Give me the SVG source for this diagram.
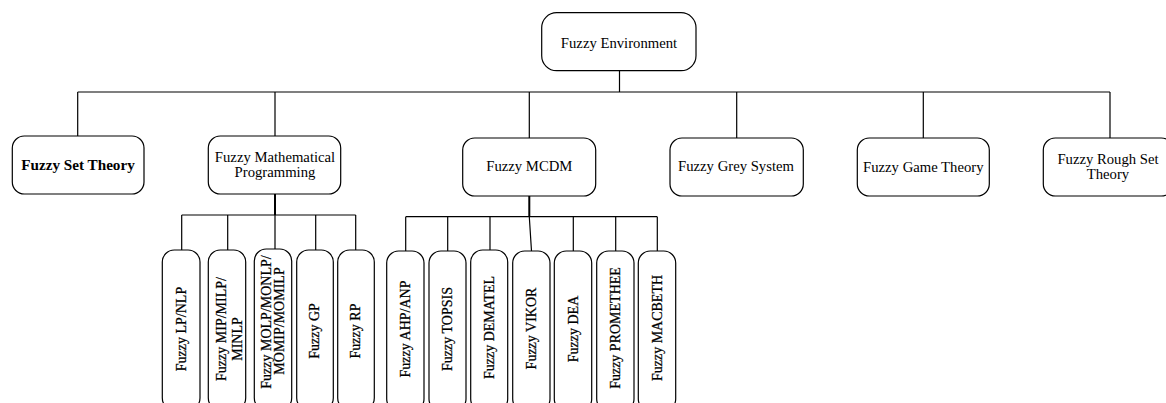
<svg xmlns="http://www.w3.org/2000/svg" width="1166" height="403" viewBox="0 0 1166 403">
<style>
.box{fill:#fff;stroke:#000;stroke-width:1.2}
.ln{fill:none;stroke:#000;stroke-width:1.2}
.stem{fill:none;stroke:#000;stroke-width:2}
text{font-family:"Liberation Serif","Times New Roman",serif;font-size:14.7px;fill:#000;text-anchor:middle}
.b{font-weight:bold;font-size:15.2px}
.v{font-size:14px;stroke:#000;stroke-width:0.25}
</style>
<g id="connectors">
<path class="ln" d="M619.5 71V92M77.7 92H1110M77.7 92V136M275 92V136M529.3 92V138M736.7 92V138M923.3 92V138M1110 92V138"/>
<path class="stem" d="M275 194V215M529.3 196V217"/>
<path class="ln" d="M181.7 215H355.7M181.7 215V250M227.7 215V250M275 215V249M315.7 215V250M355.7 215V250"/>
<path class="ln" d="M405.7 216.7H657.3M405.7 216.7V251M447.7 216.7V251M490 216.7V251M529.3 216.7L531.5 251M573.3 216.7V251M615.7 216.7V251M657.3 216.7V251"/>
</g>
<g id="n-env"><rect class="box" x="541.7" y="12.7" width="154.3" height="58" rx="15"/><text x="619" y="47.5">Fuzzy Environment</text></g>
<g id="n-set"><rect class="box" x="12.3" y="136" width="131.7" height="58" rx="12"/><text class="b" x="78" y="170">Fuzzy Set Theory</text></g>
<g id="n-mp"><rect class="box" x="208.3" y="136" width="132.4" height="58" rx="12"/><text x="275" y="161.5">Fuzzy Mathematical</text><text x="275" y="176.5">Programming</text></g>
<g id="n-mcdm"><rect class="box" x="462.7" y="138" width="133" height="58" rx="12"/><text x="529.3" y="171">Fuzzy MCDM</text></g>
<g id="n-grey"><rect class="box" x="670" y="138" width="133.3" height="58" rx="12"/><text x="736" y="171">Fuzzy Grey System</text></g>
<g id="n-game"><rect class="box" x="857.3" y="138" width="132" height="58" rx="12"/><text x="923.3" y="171.5">Fuzzy Game Theory</text></g>
<g id="n-rough"><rect class="box" x="1043.3" y="138" width="130" height="58" rx="12"/><text x="1108" y="163.5">Fuzzy Rough Set</text><text x="1108" y="178.5">Theory</text></g>
<g id="n-lp"><rect class="box" x="162.3" y="250" width="37.7" height="160" rx="12"/><text class="v" transform="translate(181.7,329) rotate(-90)" y="4.7">Fuzzy LP/NLP</text></g>
<g id="n-mip"><rect class="box" x="208.3" y="250" width="37.4" height="160" rx="12"/><text class="v" transform="translate(221.7,329) rotate(-90)" y="4.7">Fuzzy MIP/MILP/</text><text class="v" transform="translate(237.3,339) rotate(-90)" y="4.7">MINLP</text></g>
<g id="n-molp"><rect class="box" x="254.3" y="249" width="37.4" height="161" rx="12"/><text class="v" transform="translate(266.7,322) rotate(-90)" y="4.7">Fuzzy MOLP/MONLP/</text><text class="v" transform="translate(279.3,321) rotate(-90)" y="4.7">MOMIP/MOMILP</text></g>
<g id="n-gp"><rect class="box" x="296.7" y="250" width="36.6" height="160" rx="12"/><text class="v" transform="translate(314,331) rotate(-90)" y="4.7">Fuzzy GP</text></g>
<g id="n-rp"><rect class="box" x="337.7" y="250" width="36.6" height="160" rx="12"/><text class="v" transform="translate(355.5,331) rotate(-90)" y="4.7">Fuzzy RP</text></g>
<g id="n-ahp"><rect class="box" x="386.7" y="251" width="37.3" height="160" rx="12"/><text class="v" transform="translate(405,329) rotate(-90)" y="4.7">Fuzzy AHP/ANP</text></g>
<g id="n-topsis"><rect class="box" x="429" y="251" width="37" height="160" rx="12"/><text class="v" transform="translate(447.5,329) rotate(-90)" y="4.7">Fuzzy TOPSIS</text></g>
<g id="n-dematel"><rect class="box" x="470.7" y="250" width="37" height="161" rx="12"/><text class="v" transform="translate(489,327.5) rotate(-90)" y="4.7">Fuzzy DEMATEL</text></g>
<g id="n-vikor"><rect class="box" x="512.7" y="251" width="37.3" height="160" rx="12"/><text class="v" transform="translate(531,328.5) rotate(-90)" y="4.7">Fuzzy VIKOR</text></g>
<g id="n-dea"><rect class="box" x="554.3" y="251" width="37.4" height="160" rx="12"/><text class="v" transform="translate(573,329) rotate(-90)" y="4.7">Fuzzy DEA</text></g>
<g id="n-promethee"><rect class="box" x="596.7" y="251" width="37.3" height="160" rx="12"/><text class="v" transform="translate(615.3,328) rotate(-90)" y="4.7">Fuzzy PROMETHEE</text></g>
<g id="n-macbeth"><rect class="box" x="638.3" y="251" width="37.4" height="160" rx="12"/><text class="v" transform="translate(657.3,328) rotate(-90)" y="4.7">Fuzzy MACBETH</text></g>
</svg>
